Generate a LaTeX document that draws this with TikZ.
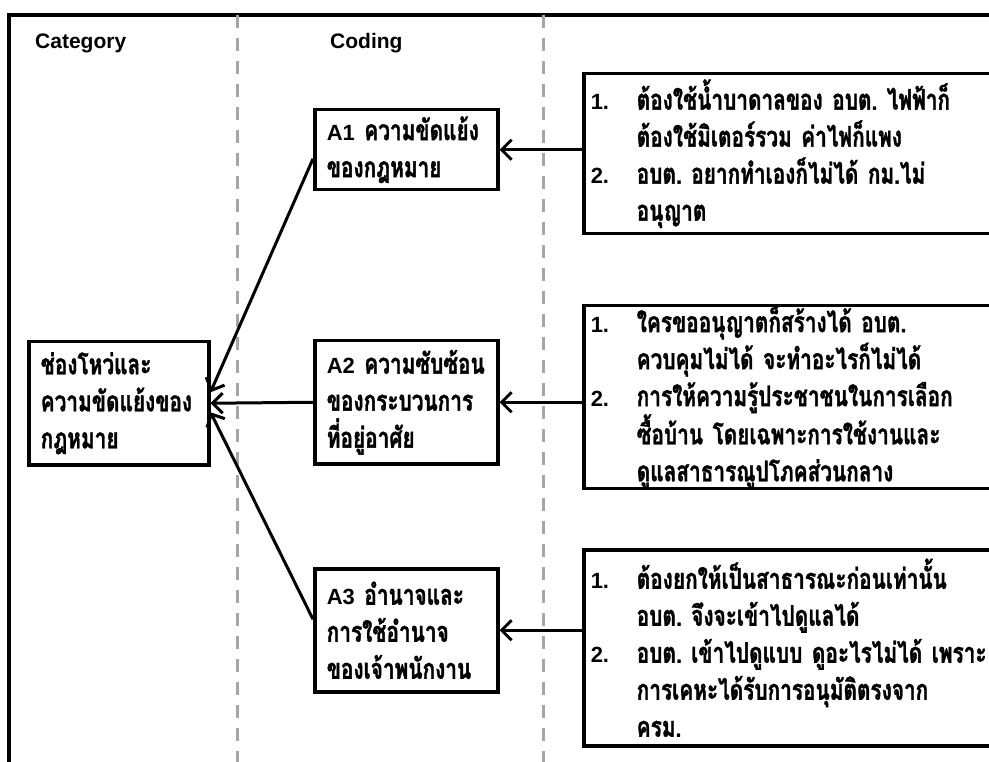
\documentclass[tikz,border=0pt]{standalone}
\usepackage{fontspec}
\setmainfont{Liberation Sans}
\newfontfamily\latinfont{Liberation Sans}
\newfontfamily\thaifont[Script=Thai, FakeStretch=0.73, WordSpace=0.6, FakeBold=1.2]{Loma}
\usetikzlibrary{arrows.meta}
\frenchspacing

% Latin parts (codes, list numbers) in Arial-like bold
\newcommand{\lat}[1]{{\fontsize{22}{37}\selectfont\latinfont\bfseries #1}}
\newcommand{\num}[1]{\makebox[46pt][l]{\lat{#1}}}
\newcommand{\indentline}{\hspace*{46pt}}

\tikzset{
  frameline/.style={line width=3.5pt, black},
  divider/.style={line width=3pt, color=black!35, dash pattern=on 13pt off 10pt},
  heading/.style={anchor=west, inner sep=0pt, font=\latinfont\bfseries\fontsize{21}{25}\selectfont},
  box/.style={draw, line width=3.5pt, fill=white, align=left, anchor=north west,
    inner ysep=0pt, font=\thaifont\bfseries\fontsize{28.5}{37}\selectfont},
  catbox/.style={box, inner xsep=12pt, text width=156pt, minimum width=180pt},
  codebox/.style={box, inner xsep=12pt, text width=159pt, minimum width=183pt},
  notebox/.style={box, inner xsep=7pt, text width=420pt, minimum width=434pt},
  link/.style={line width=3pt, -{Straight Barb[length=10pt, width=20pt]}},
}

\begin{document}
\begin{tikzpicture}[x=1pt, y=-1pt]
  \useasboundingbox (0,0) rectangle (989,762);
  \clip (0,0) rectangle (989,762);

  % outer frame and column dividers
  \draw[frameline] (9,770) -- (9,15) -- (1000,15);
  \draw[divider] (237,15) -- (237,770);
  \draw[divider] (543,15) -- (543,770);

  % column headings
  \node[heading] (hcat) at (35,43) {Category};
  \node[heading] (hcod) at (330,43) {Coding};

  % category
  \node[catbox, minimum height=123pt] (cat) at (27,340)
    {ช่องโหว่และ\\ความขัดแย้งของ\\กฎหมาย};

  % codes
  \node[codebox, minimum height=80pt] (a1) at (313,108)
    {\lat{A1} ความขัดแย้ง\\ของกฎหมาย};
  \node[codebox, minimum height=123pt] (a2) at (313,339)
    {\lat{A2} ความซับซ้อน\\ของกระบวนการ\\ที่อยู่อาศัย};
  \node[codebox, minimum height=123pt] (a3) at (313,567)
    {\lat{A3} อำนาจและ\\การใช้อำนาจ\\ของเจ้าพนักงาน};

  % supporting statements
  \node[notebox, minimum height=160pt] (r1) at (582,72)
    {\num{1.}ต้องใช้น้ำบาดาลของ อบต. ไฟฟ้าก็\\
     \indentline ต้องใช้มิเตอร์รวม ค่าไฟก็แพง\\
     \num{2.}อบต. อยากทำเองก็ไม่ได้ กม.ไม่\\
     \indentline อนุญาต};
  \node[notebox, minimum height=181pt] (r2) at (582,304)
    {\num{1.}ใครขออนุญาตก็สร้างได้ อบต.\\
     \indentline ควบคุมไม่ได้ จะทำอะไรก็ไม่ได้\\
     \num{2.}การให้ความรู้ประชาชนในการเลือก\\
     \indentline ซื้อบ้าน โดยเฉพาะการใช้งานและ\\
     \indentline ดูแลสาธารณูปโภคส่วนกลาง};
  \node[notebox, minimum height=196pt] (r3) at (582,548)
    {\num{1.}ต้องยกให้เป็นสาธารณะก่อนเท่านั้น\\
     \indentline อบต. จึงจะเข้าไปดูแลได้\\
     \num{2.}อบต. เข้าไปดูแบบ ดูอะไรไม่ได้ เพราะ\\
     \indentline การเคหะได้รับการอนุมัติตรงจาก\\
     \indentline ครม.};

  % statements to codes
  \draw[link] (a1.east -| r1.west) -- (a1.east);
  \draw[link] (a2.east -| r2.west) -- (a2.east);
  \draw[link] (a3.east -| r3.west) -- (a3.east);

  % codes to category
  \draw[link] ([yshift=-9pt]a1.west) -- ([yshift=11pt]cat.east);
  \draw[link] (a2.west) -- (cat.east);
  \draw[link] ([yshift=11pt]a3.west) -- ([yshift=-9pt]cat.east);
\end{tikzpicture}
\end{document}
